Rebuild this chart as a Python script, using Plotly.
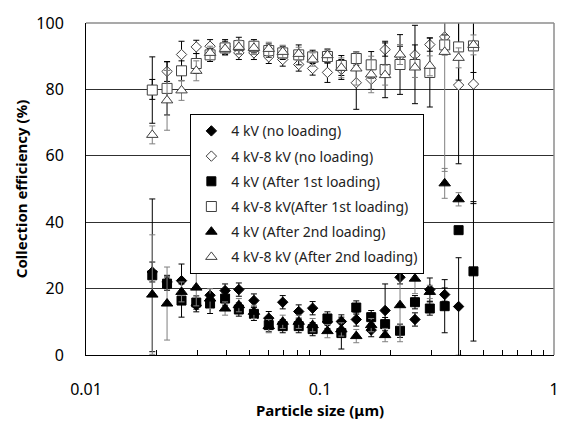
import plotly.graph_objects as go

# Particle size channels (um)
size_um = [0.0192, 0.0222, 0.0256, 0.0296, 0.0339, 0.0393, 0.0450, 0.0522, 0.0604, 0.0693,
           0.0811, 0.0930, 0.1076, 0.1234, 0.1429, 0.1655, 0.1898, 0.2198, 0.2546, 0.2947,
           0.3411, 0.3911, 0.4527]

# 4 kV (no loading)
eff_4kv_no = [25, 22, 22.4, 15, 18, 19.4, 19.7, 16.4, 11.1, 15.9, 13.1, 14.1, 10, 10.1, 10.7,
              7.5, 13.4, 23.4, 10.7, 19.7, 18.2, 14.6, None]
err_4kv_no = [3, 2, 5, 2, 2, 2, 2, 2, 2, 2, 2, 2, 2, 2, 2, 2, 8, 2, 2, 3.5, 2, 14.7, 0]

# 4 kV-8 kV (no loading)
eff_48kv_no = [80, 85.4, 90.5, 92.8, 93, 93, 91, 91, 89.8, 89, 87.5, 86.3, 85.1, 86, 82,
               83, 92, 90, 90.4, 93.5, 95.8, 81.3, 81.6]
err_48kv_no = [3, 3, 4, 2, 2, 2, 2, 2, 2, 2, 2, 2, 3, 3, 8, 3, 2, 3, 3, 2, 5, 23.7, 36]

# 4 kV (After 1st loading)
eff_4kv_1st = [24, 21.5, 16.4, 15.8, 15.5, 17, 13.7, 12.4, 9, 8.7, 8.7, 7.8, 11, 6.6, 14.3,
               11.4, 9.3, 7.3, 15.9, 14, 14.7, 37.6, 25.2]
err_4kv_1st = [23, 2, 5, 2, 3, 2, 2, 2, 2, 2, 2, 2, 2, 4.8, 2, 2, 2, 2, 2, 2, 8, 0, 21]

# 4 kV-8 kV (After 1st loading)
eff_48kv_1st = [79.8, 80.3, 85.6, 87.8, 90.4, 92.5, 93.2, 93, 91.7, 91, 90.4, 89.8, 89.9, 87.2,
                89.3, 87.4, 86, 87.5, 87.5, 85.1, 93.4, 92.8, 93.1]
err_48kv_1st = [10, 8, 3, 3, 2, 2, 2.5, 2, 2, 2, 3, 2, 2, 3, 2, 4, 8.5, 9, 11.8, 10.4, 3, 10, 8]

# 4 kV (After 2nd loading)
eff_4kv_2nd = [18.2, 15.5, 19, 20.3, 17, 14, 15, 13, 8.7, 10, 10, 9, 7.2, 7.7, 5.7, 9, 6,
               15, 23, 19, 51.7, 46.9, None]
err_4kv_2nd = [18, 11, 3, 5.5, 3, 2, 2, 2, 2, 2, 2, 2, 2, 2, 2, 2, 2, 11, 4.5, 2, 4.5, 2, 0]

# 4 kV-8 kV (After 2nd loading)
eff_48kv_2nd = [66.3, 76.7, 79.7, 85.6, 91, 92.2, 92.8, 92.5, 92.2, 91.3, 90.7, 89, 90.3, 86.5,
                86.3, 84.5, 84.3, 90.5, 86.6, 87.1, 91.3, 89.5, 93.4]
err_48kv_2nd = [2.7, 9, 3, 3, 2, 2, 2, 2, 2, 2, 2, 2, 2, 3, 5, 5.5, 3, 3, 3, 3, 36, 3, 3]

# x-axis tick positions and labels
x_tickvals = [0.01, 0.02, 0.03, 0.04, 0.05, 0.06, 0.07, 0.08, 0.09,
              0.1, 0.2, 0.3, 0.4, 0.5, 0.6, 0.7, 0.8, 0.9, 1]
x_ticktext = ["0.01", "", "", "", "", "", "", "", "",
              "0.1", "", "", "", "", "", "", "", "", "1"]

series = [
    ("4 kV (no loading)", eff_4kv_no, err_4kv_no, "diamond", "black", "black", 8, "black"),
    ("4 kV-8 kV (no loading)", eff_48kv_no, err_48kv_no, "diamond", "white", "#404040", 8, "black"),
    ("4 kV (After 1st loading)", eff_4kv_1st, err_4kv_1st, "square", "black", "black", 9, "black"),
    ("4 kV-8 kV(After 1st loading)", eff_48kv_1st, err_48kv_1st, "square", "white", "#404040", 10, "black"),
    ("4 kV (After 2nd loading)", eff_4kv_2nd, err_4kv_2nd, "triangle-up", "black", "black", 10, "#7f7f7f"),
    ("4 kV-8 kV (After 2nd loading)", eff_48kv_2nd, err_48kv_2nd, "triangle-up", "white", "#404040", 10, "#7f7f7f"),
]

fig = go.Figure()
for i, (name, ys, errs, sym, fill, line, sz, ecol) in enumerate(series):
    fig.add_trace(go.Scatter(
        x=size_um, y=ys, mode="markers", name=name, legendgroup=f"g{i}",
        marker=dict(symbol=sym, color=fill, size=sz, line=dict(color=line, width=1)),
        error_y=dict(type="data", array=errs, visible=True, color=ecol, thickness=1, width=3),
        cliponaxis=True,
    ))

font_fam = "Noto Sans, DejaVu Sans, sans-serif"
fig.update_layout(
    width=571, height=432,
    margin=dict(l=86, r=14, t=20, b=77),
    paper_bgcolor="white", plot_bgcolor="white",
    font=dict(family=font_fam, size=16, color="black"),
    showlegend=True,
    legend=dict(x=0.223, y=0.725, xanchor="left", yanchor="top",
                bgcolor="white", bordercolor="black", borderwidth=1,
                font=dict(size=14, color="#222", family=font_fam),
                tracegroupgap=4, itemsizing="trace", itemwidth=30),
    xaxis=dict(type="log", range=[-2, 0], tickvals=x_tickvals, ticktext=x_ticktext,
               showgrid=False, zeroline=False, showline=True, linecolor="black", linewidth=1,
               ticks="inside", ticklen=5, tickcolor="black",
               ticklabelstandoff=20,
               title=dict(text="<b>Particle size (μm)</b>", font=dict(size=15), standoff=6)),
    yaxis=dict(range=[0, 100], dtick=20, showgrid=True, gridcolor="#303030", gridwidth=1,
               zeroline=False, showline=True, linecolor="black", linewidth=1, ticks="",
               ticklabelstandoff=18,
               title=dict(text="<b>Collection efficiency (%)</b>", font=dict(size=15), standoff=5)),
    shapes=[
        dict(type="line", xref="paper", yref="paper", x0=0, x1=1, y0=1, y1=1,
             line=dict(color="#8c8c8c", width=1.5)),
        dict(type="line", xref="paper", yref="paper", x0=1, x1=1, y0=0, y1=1,
             line=dict(color="#8c8c8c", width=1.5)),
    ],
)

fig.write_html("out.html")
